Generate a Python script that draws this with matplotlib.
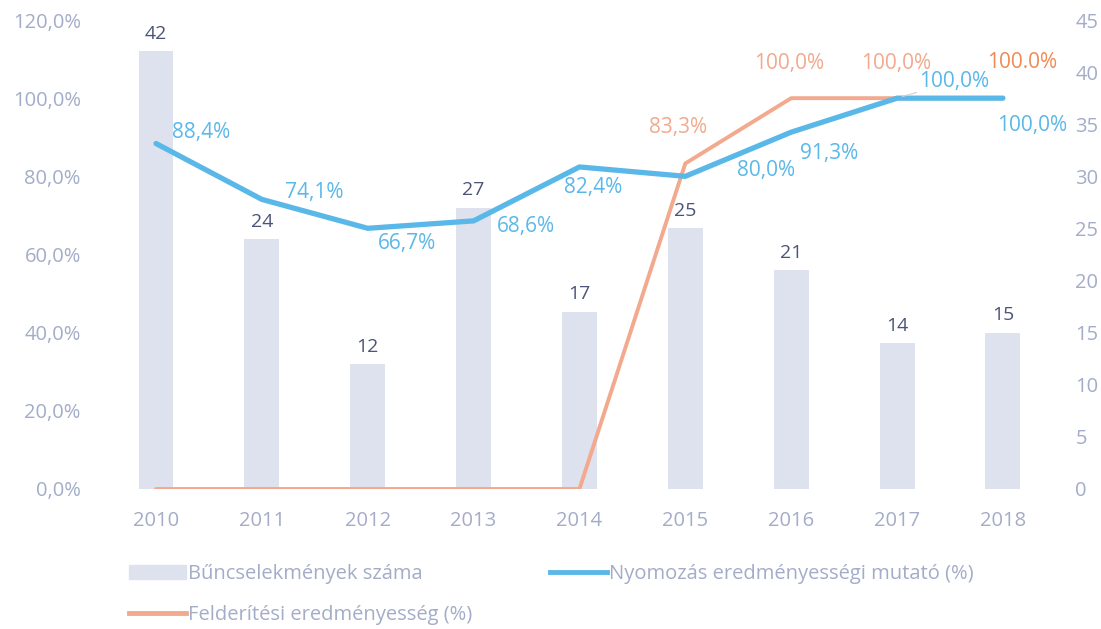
import numpy as np
import matplotlib.pyplot as plt
from matplotlib.patches import Patch
from matplotlib.lines import Line2D
from matplotlib.ticker import FuncFormatter

plt.rcParams['font.family'] = ['Open Sans', 'DejaVu Sans']

years = ['2010', '2011', '2012', '2013', '2014', '2015', '2016', '2017', '2018']
counts = [42, 24, 12, 27, 17, 25, 21, 14, 15]
nyomozas = [88.4, 74.1, 66.7, 68.6, 82.4, 80.0, 91.3, 100.0, 100.0]
felderites = [0.0, 0.0, 0.0, 0.0, 0.0, 83.3, 100.0, 100.0, 100.0]

bar_c = '#dde2ee'
blue = '#5ab8e8'
orange = '#f2a98d'
tick_c = '#a3acc9'
dark = '#4b5478'

fig = plt.figure(figsize=(11.01, 6.29), dpi=100)
ax = fig.add_axes([0.0936, 0.2226, 0.8654, 0.7456])
ax2 = ax.twinx()
ax.set_zorder(ax2.get_zorder() + 1)
ax.patch.set_visible(False)

x = np.arange(len(years))
ax2.bar(x, counts, width=0.33, color=bar_c)
for xi, c in zip(x, counts):
    ax2.annotate(str(c), (xi, c), xytext=(0, 6), textcoords='offset points',
                 ha='center', va='bottom', fontsize=14, color=dark, annotation_clip=False)
ax2.set_ylim(0, 45)
ax2.set_yticks(range(0, 46, 5))

ax.plot(x, nyomozas, color=blue, lw=3.8, solid_capstyle='round', zorder=3)
ax.plot(x, felderites, color=orange, lw=2.8, solid_capstyle='round', zorder=2)
ax.set_ylim(0, 120)
ax.set_xlim(-0.5, 8.5)
ax.set_yticks(range(0, 121, 20))
ax.yaxis.set_major_formatter(FuncFormatter(lambda v, p: f'{v:.1f}%'.replace('.', ',')))
ax.set_xticks(x)
ax.set_xticklabels(years)

def pct(v):
    return f'{v:.1f}%'.replace('.', ',')

# blue labels (offsets in points, left edge of text)
blue_off = [(11.5, 8), (16.5, 5), (7, -11), (17, -4), (-11, -15), (37, 4), (6, -15), (16, 12), (-4, -20)]
for i, (xi, v, off) in enumerate(zip(x, nyomozas, blue_off)):
    arrow = None
    if i == 7:
        arrow = dict(arrowstyle='-', color='#c9cee0', lw=0.8, shrinkA=0, shrinkB=4)
    ax.annotate(pct(v), (xi, v), xytext=off, textcoords='offset points',
                ha='left', va='center', fontsize=15, color=blue, arrowprops=arrow)

# orange labels
or_off = [None, None, None, None, None, (-26, 26), (-27, 25), (-26, 25), (-11.5, 26)]
for i, (xi, v, off) in enumerate(zip(x, felderites, or_off)):
    if off is None:
        continue
    txt = pct(v)
    col = orange
    if i == len(x) - 1:
        txt = f'{v:.1f}%'
        col = '#f08a55'
    ax.annotate(txt, (xi, v), xytext=off, textcoords='offset points',
                ha='left', va='center', fontsize=15, color=col)

for a in (ax, ax2):
    for s in a.spines.values():
        s.set_visible(False)
    a.tick_params(length=0, colors=tick_c, labelsize=14.5)
ax.tick_params(axis='y', pad=16)
ax.tick_params(axis='x', pad=16)
ax2.tick_params(axis='y', pad=14)

handles = [Patch(color=bar_c), Line2D([], [], color=orange, lw=3.5),
           Line2D([], [], color=blue, lw=3.5)]
labels = ['Bűncselekmények száma', 'Felderítési eredményesség (%)',
          'Nyomozás eredményességi mutató (%)']
leg = fig.legend(handles, labels, ncol=2, loc='upper left', bbox_to_anchor=(0.11, 0.116),
                 frameon=False, fontsize=14.5, handlelength=2.8, handletextpad=0.1,
                 columnspacing=3.9, labelspacing=1.05, borderaxespad=0)
for t in leg.get_texts():
    t.set_color(tick_c)

fig.savefig('out.png', dpi=100)
